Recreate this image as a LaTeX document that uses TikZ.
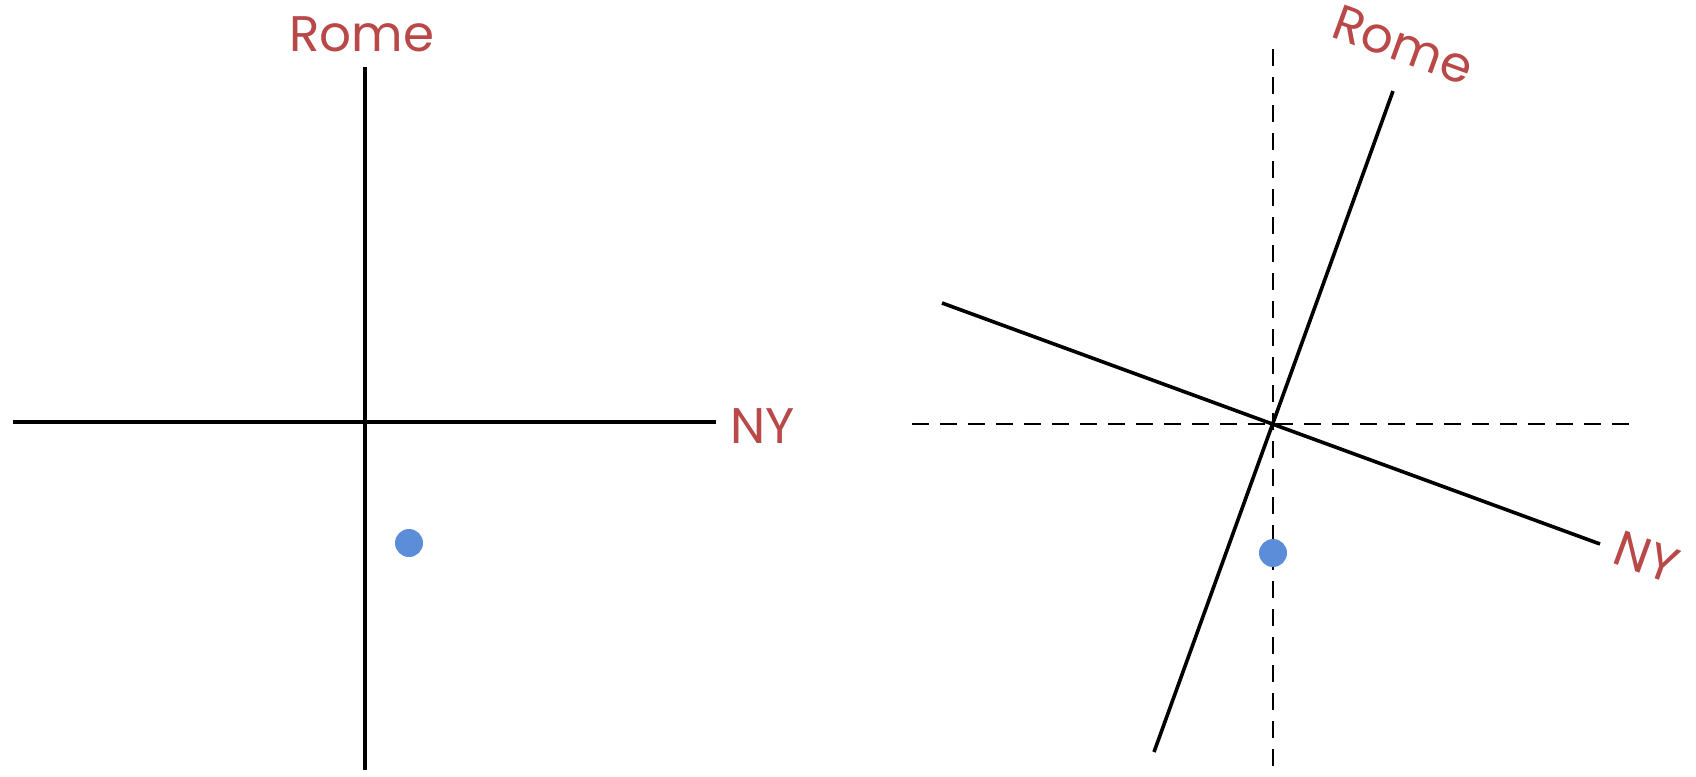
\documentclass[tikz,border=0pt]{standalone}
\usepackage{fontspec}
\setmainfont{Poppins}
\definecolor{lblred}{RGB}{185,72,72}
\definecolor{dotblue}{RGB}{91,141,217}
\begin{document}
\begin{tikzpicture}[x=1pt,y=-1pt,
  axis/.style={line width=3.6pt,black},
  daxis/.style={line width=2.2pt,black,dash pattern=on 17pt off 11pt},
  lbl/.style={text=lblred,font=\fontsize{50}{60}\selectfont,inner sep=0pt},
  pt/.style={circle,fill=dotblue,inner sep=0pt,minimum size=28pt}]
\useasboundingbox (0,0) rectangle (1696,776);
% left panel
\coordinate (lt) at (365,67);
\coordinate (lb) at (365,770);
\coordinate (ll) at (13,422);
\coordinate (lr) at (716,422);
\draw[axis] (lt) -- (lb);
\draw[axis] (ll) -- (lr);
\node[lbl,anchor=base] (romeL) at (362,52) {Rome};
\node[lbl,anchor=base west] (nyL) at (730,443) {NY};
\node[pt] (dotL) at (409,543) {};
% right panel
\coordinate (dt) at (1273,49);
\coordinate (db) at (1273,776);
\coordinate (dl) at (912,424);
\coordinate (dr) at (1630,424);
\draw[daxis] (dt) -- (db);
\draw[daxis] (dl) -- (dr);
\coordinate (rt) at (1393,91);
\coordinate (rb) at (1154,752);
\coordinate (nl) at (942,303);
\coordinate (nr) at (1600,544);
\draw[axis] (rb) -- (rt);
\draw[axis] (nl) -- (nr);
\node[lbl,rotate=-20] (romeR) at (1403,45) {Rome};
\node[lbl,rotate=-20] (nyR) at (1647,557) {NY};
\node[pt] (dotR) at (1273,553) {};
\end{tikzpicture}
\end{document}
